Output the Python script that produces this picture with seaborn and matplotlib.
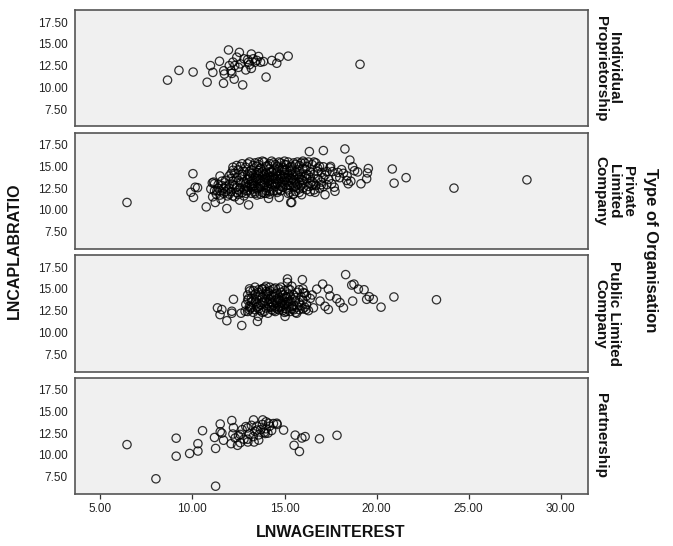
import matplotlib
matplotlib.use("Agg")
import numpy as np
import pandas as pd
import seaborn as sns
import matplotlib.pyplot as plt

# ---------------- data ----------------
org_order = ["Individual Proprietorship", "Private Limited Company",
             "Public Limited Company", "Partnership"]
row_labels = ["Individual\nProprietorship", "Private\nLimited\nCompany",
              "Public Limited\nCompany", "Partnership"]

x_ticks = [5.0, 10.0, 15.0, 20.0, 25.0, 30.0]
x_tick_labels = ["5.00", "10.00", "15.00", "20.00", "25.00", "30.00"]
y_ticks = [7.5, 10.0, 12.5, 15.0, 17.5]
y_tick_labels = ["7.50", "10.00", "12.50", "15.00", "17.50"]

individual_x = [8.65, 9.27, 10.04, 10.80, 10.98, 11.11, 11.47, 11.69, 11.70, 11.74,
                11.96, 12.00, 12.14, 12.20, 12.27, 12.30, 12.41, 12.55, 12.60, 12.73,
                12.80, 13.04, 13.10, 13.20, 13.20, 13.30, 13.40, 13.59, 13.70, 13.86,
                14.00, 14.31, 14.58, 14.72, 15.20, 19.10, 12.50, 13.00, 12.90, 13.50,
                12.10]
individual_y = [10.83, 11.95, 11.76, 10.59, 12.50, 11.72, 13.00, 10.47, 11.91, 11.53,
                14.30, 12.50, 11.60, 12.90, 10.94, 12.50, 13.47, 14.02, 12.70, 10.28,
                13.28, 12.89, 12.60, 13.83, 12.18, 13.28, 12.89, 13.55, 12.89, 12.97,
                11.18, 13.09, 12.77, 13.47, 13.59, 12.65, 12.30, 13.20, 12.00, 13.10,
                11.90]

private_pts = [
    (6.45, 10.85), (10.03, 14.16), (9.92, 12.02), (10.15, 12.60), (10.28, 12.55),
    (10.06, 11.43), (10.75, 10.34), (11.15, 13.19), (11.08, 13.10), (11.24, 10.85),
    (11.50, 13.89), (11.55, 11.24), (11.87, 10.15), (11.33, 12.20), (12.20, 14.55),
    (12.56, 11.12), (13.05, 10.57), (14.13, 11.32), (14.71, 11.43), (15.34, 10.85),
    (15.49, 11.82), (16.35, 16.70), (17.11, 16.82), (18.28, 17.00), (18.55, 15.72),
    (18.70, 14.95), (18.97, 14.36), (19.55, 14.75), (19.50, 14.25), (19.46, 13.58),
    (19.15, 13.00), (18.46, 13.00), (18.37, 13.38), (18.10, 14.63), (17.74, 12.14),
    (17.20, 11.74), (16.66, 12.02), (15.93, 11.74), (15.48, 11.80), (15.39, 10.85),
    (17.11, 14.95), (17.47, 14.83), (17.56, 13.00), (17.11, 12.68), (20.85, 14.70),
    (20.95, 13.07), (21.60, 13.70), (24.20, 12.50), (28.16, 13.45),
    (11.0, 12.4), (11.2, 13.0), (11.3, 11.8), (11.4, 12.9), (11.1, 11.5), (11.5, 12.2),
    (11.6, 12.8), (11.7, 11.9), (11.8, 13.4), (11.9, 12.3), (12.0, 13.9), (11.7, 12.5),
    (11.9, 11.6), (12.0, 12.9),
    (12.1, 12.1), (12.2, 13.3), (12.3, 14.2), (12.4, 12.6), (12.5, 11.8), (12.2, 12.9),
    (12.4, 13.7), (12.5, 14.6), (12.3, 11.5), (12.1, 13.6), (12.5, 12.3), (12.2, 14.9),
    (12.6, 13.1), (12.7, 12.0), (12.8, 14.4), (12.9, 12.7), (13.0, 13.5), (12.6, 15.0),
    (12.7, 13.8), (12.8, 11.6), (12.9, 14.9), (13.0, 12.2), (12.6, 12.5), (12.8, 13.2),
    (13.0, 14.1), (12.7, 15.3), (12.9, 11.9),
    (13.1, 12.9), (13.2, 14.6), (13.3, 12.4), (13.4, 15.4), (13.5, 13.6), (13.1, 13.9),
    (13.2, 11.9), (13.3, 15.1), (13.4, 12.1), (13.5, 14.3), (13.1, 15.5), (13.2, 13.3),
    (13.3, 14.0), (13.4, 12.8), (13.5, 11.7), (13.2, 12.6), (13.4, 13.7), (13.5, 15.0),
    (13.3, 13.0), (13.1, 14.4),
    (13.6, 12.5), (13.7, 14.8), (13.8, 13.2), (13.9, 15.5), (14.0, 12.2), (13.6, 13.9),
    (13.7, 11.8), (13.8, 14.4), (13.9, 12.9), (14.0, 13.7), (13.6, 15.2), (13.7, 13.4),
    (13.8, 12.0), (13.9, 14.1), (14.0, 15.0), (13.6, 14.5), (13.7, 12.7), (13.8, 15.6),
    (13.9, 13.5), (14.0, 12.6), (13.7, 14.2), (13.9, 11.9),
    (14.1, 13.3), (14.2, 15.3), (14.3, 12.4), (14.4, 14.6), (14.5, 13.0), (14.1, 14.0),
    (14.2, 12.1), (14.3, 15.6), (14.4, 13.6), (14.5, 12.7), (14.1, 15.1), (14.2, 13.8),
    (14.3, 14.3), (14.4, 12.2), (14.5, 15.2), (14.2, 14.7), (14.4, 13.1), (14.1, 12.5),
    (14.3, 13.5), (14.5, 14.2), (14.2, 11.8),
    (14.6, 13.9), (14.7, 12.4), (14.8, 15.4), (14.9, 13.2), (15.0, 14.5), (14.6, 12.0),
    (14.7, 14.8), (14.8, 13.6), (14.9, 12.6), (15.0, 15.2), (14.6, 15.0), (14.7, 13.3),
    (14.8, 14.1), (14.9, 14.9), (15.0, 12.9), (14.7, 15.5), (14.8, 12.2), (14.9, 13.8),
    (15.0, 13.4), (14.6, 14.4),
    (15.1, 13.7), (15.2, 12.3), (15.3, 14.9), (15.4, 13.1), (15.5, 15.4), (15.1, 14.6),
    (15.2, 13.4), (15.3, 12.0), (15.4, 14.2), (15.5, 12.6), (15.1, 15.2), (15.2, 14.0),
    (15.3, 13.6), (15.4, 15.0), (15.5, 13.9), (15.2, 15.5), (15.3, 12.8), (15.1, 12.5),
    (15.6, 14.4), (15.7, 12.9), (15.8, 15.1), (15.9, 13.5), (16.0, 14.7), (15.6, 13.2),
    (15.7, 15.5), (15.8, 12.4), (15.9, 14.1), (16.0, 13.0), (15.6, 12.1), (15.7, 14.0),
    (15.8, 13.7), (15.9, 15.4), (16.0, 12.5),
    (16.1, 13.9), (16.2, 15.0), (16.3, 12.7), (16.4, 14.4), (16.5, 13.3), (16.1, 15.4),
    (16.2, 12.3), (16.3, 14.0), (16.4, 13.0), (16.5, 15.2), (16.2, 13.6), (16.4, 12.1),
    (16.3, 15.5),
    (16.6, 14.1), (16.7, 12.8), (16.8, 13.6), (16.9, 15.0), (17.0, 14.3), (16.6, 13.0),
    (16.8, 14.8), (17.0, 13.2), (16.7, 15.4), (16.9, 12.5),
    (17.2, 14.0), (17.4, 13.5), (17.6, 14.4), (17.8, 13.8), (17.3, 12.9), (17.9, 14.3),
    (18.0, 13.7), (17.5, 15.0), (17.7, 12.6), (18.2, 14.2), (18.4, 13.9), (18.6, 13.3),
    (18.8, 14.5),
    (12.3, 12.8), (12.5, 13.4), (12.7, 14.1), (12.9, 13.0), (13.0, 12.6), (13.2, 14.2),
    (13.3, 13.4), (13.5, 12.4), (13.6, 13.6), (13.8, 13.9), (13.9, 13.1), (14.1, 13.6),
    (14.2, 14.3), (14.3, 12.9), (14.5, 13.5), (14.6, 13.1), (14.8, 13.9), (15.0, 13.7),
    (15.1, 13.2), (15.3, 14.4), (15.5, 13.4), (15.6, 14.0), (15.8, 14.4), (16.0, 13.4),
    (16.2, 14.1), (16.4, 13.7), (12.4, 12.0), (12.6, 14.0), (12.8, 12.4), (13.1, 13.6),
    (13.3, 12.7), (13.6, 14.1), (13.8, 12.8), (14.0, 14.3), (14.2, 13.1), (14.4, 13.9),
    (14.6, 13.6), (14.8, 12.7), (15.0, 14.1), (15.2, 12.8), (15.4, 13.6), (15.6, 12.7),
    (15.8, 13.1), (16.1, 14.7), (11.6, 13.3), (11.8, 12.1), (12.0, 12.5), (12.0, 11.8),
    (11.5, 11.7), (11.8, 12.7), (12.1, 14.2), (12.4, 15.1), (13.0, 15.3), (13.6, 15.5),
    (14.4, 15.4), (15.0, 15.6), (15.6, 15.2), (16.0, 15.6), (16.6, 15.5), (12.9, 12.2),
    (13.4, 11.9), (14.0, 11.9), (14.6, 12.2), (15.2, 11.9), (15.8, 12.0), (16.6, 12.3),
    (17.1, 13.7), (17.3, 14.4), (16.8, 14.4), (16.5, 12.8), (17.0, 12.9), (13.2, 13.0),
    (13.7, 13.0), (14.3, 13.8), (14.9, 14.6), (15.4, 14.6), (15.9, 12.8), (12.2, 11.6),
    (11.4, 12.5), (11.2, 12.2),
]

public_pts = [
    (11.36, 12.82), (11.50, 12.04), (11.60, 12.63), (11.87, 11.34), (12.14, 12.43),
    (12.14, 12.20), (12.23, 13.80), (12.68, 10.79), (12.64, 12.20), (12.86, 12.43),
    (13.04, 13.87), (13.13, 12.82), (13.13, 14.77), (13.53, 11.26), (13.58, 11.84),
    (13.77, 14.97), (15.16, 16.14), (15.16, 15.74), (15.97, 16.06), (15.03, 11.84),
    (15.66, 12.20), (16.03, 14.57), (16.17, 12.63), (16.75, 14.97), (17.07, 15.55),
    (17.38, 14.97), (17.38, 12.63), (17.47, 14.19), (16.93, 13.60), (17.20, 13.00),
    (17.83, 13.87), (18.01, 13.42), (18.20, 12.82), (16.57, 12.82), (18.32, 16.64),
    (18.65, 15.44), (18.77, 15.55), (19.01, 14.97), (19.32, 14.90), (19.46, 13.80),
    (19.60, 14.10), (19.82, 13.80), (18.70, 13.60), (20.24, 12.90), (20.94, 14.07),
    (23.25, 13.75),
    (12.9, 13.2), (13.0, 14.3), (13.1, 12.6), (13.2, 13.9), (13.3, 14.8), (13.3, 12.3),
    (13.4, 13.5), (13.5, 14.1), (13.5, 12.9), (13.6, 14.6), (13.7, 13.2), (13.7, 12.5),
    (13.8, 14.0), (13.9, 13.6), (13.9, 15.1), (14.0, 12.8), (14.0, 14.4), (14.1, 13.3),
    (14.1, 12.2), (14.2, 14.8), (14.2, 13.8), (14.3, 12.6), (14.3, 14.2), (14.4, 13.1),
    (14.4, 15.0), (14.5, 13.7), (14.5, 12.4), (14.6, 14.5), (14.6, 13.4), (14.7, 12.9),
    (14.7, 14.0), (14.8, 15.2), (14.8, 13.6), (14.9, 12.5), (14.9, 14.3), (15.0, 13.2),
    (15.0, 14.8), (15.1, 13.9), (15.1, 12.7), (15.2, 14.4), (15.2, 13.5), (15.3, 12.4),
    (15.3, 14.9), (15.4, 13.8), (15.4, 13.0), (15.5, 14.3), (15.5, 12.6), (15.6, 13.6),
    (15.7, 14.6), (15.7, 12.9), (15.8, 13.4), (15.9, 14.1), (16.0, 12.7), (16.0, 13.7),
    (16.1, 14.5), (16.2, 13.2), (16.3, 12.5), (16.4, 13.9), (13.4, 14.4), (13.6, 13.0),
    (13.8, 12.3), (14.0, 13.9), (14.2, 12.9), (14.4, 14.1), (14.6, 12.7), (14.8, 14.6),
    (15.0, 12.3), (15.2, 15.0), (13.2, 12.8), (13.5, 13.3), (13.8, 15.0), (14.1, 14.6),
    (14.3, 13.4), (14.5, 15.1), (14.7, 13.8), (14.9, 13.0), (15.1, 14.1), (15.3, 13.6),
    (15.6, 12.3), (15.8, 14.9), (16.1, 12.9), (16.5, 14.3), (13.0, 12.4), (13.6, 12.7),
    (14.0, 15.3), (14.4, 12.5), (14.8, 12.9), (15.4, 15.3), (13.1, 15.0), (13.3, 13.7),
    (13.2, 13.5), (13.4, 12.6), (13.5, 13.8), (13.7, 14.3), (13.8, 13.4), (14.0, 13.5),
    (14.1, 14.1), (14.2, 13.5), (14.3, 12.9), (14.5, 14.4), (14.6, 13.9), (14.7, 12.6),
    (14.9, 13.6), (15.0, 14.0), (15.1, 13.4), (15.2, 12.9), (15.3, 14.2), (15.5, 13.1),
    (15.6, 14.0), (15.8, 12.6), (13.0, 13.7), (13.6, 14.9), (14.2, 15.2), (14.8, 13.3),
    (15.4, 12.7), (15.9, 13.1), (13.1, 13.0), (13.9, 12.4), (14.5, 12.9), (15.1, 12.4),
    (14.0, 14.7), (14.7, 15.0), (13.4, 15.2), (16.2, 14.2), (16.0, 15.0),
]

partnership_pts = [
    (6.45, 11.18), (8.02, 7.25), (9.12, 11.92), (9.12, 9.85), (9.85, 10.16),
    (10.30, 11.29), (10.30, 10.44), (10.55, 12.78), (11.26, 6.40), (11.26, 10.74),
    (11.20, 12.00), (11.51, 12.66), (11.51, 13.55), (11.69, 11.68), (12.14, 13.95),
    (12.23, 13.13), (12.10, 11.29), (12.32, 11.94), (12.45, 11.10), (12.60, 12.35),
    (12.90, 13.25), (13.01, 11.48), (13.32, 14.02), (13.35, 11.48), (13.50, 12.85),
    (13.82, 14.02), (13.95, 12.46), (14.13, 13.64), (14.58, 13.64), (14.95, 12.85),
    (15.58, 12.27), (15.52, 11.10), (15.81, 10.39), (15.94, 11.94), (16.12, 12.10),
    (16.90, 11.85), (17.85, 12.25),
    (12.5, 12.2), (12.7, 12.9), (12.8, 11.8), (13.0, 13.1), (13.1, 12.4), (13.2, 13.4),
    (13.3, 12.1), (13.4, 12.7), (13.5, 13.3), (13.6, 12.3), (13.7, 12.9), (13.8, 13.5),
    (13.9, 12.6), (14.0, 13.0), (14.1, 12.5), (14.2, 13.3), (14.3, 12.8), (14.4, 13.6),
    (14.6, 13.5), (12.6, 11.4), (13.0, 11.8), (13.6, 11.7), (14.0, 13.8), (12.2, 12.4),
    (11.6, 12.5),
]

# ---------------- table ----------------
frames = [
    pd.DataFrame({"wage": individual_x, "cap": individual_y, "org": org_order[0]}),
    pd.DataFrame(private_pts, columns=["wage", "cap"]).assign(org=org_order[1]),
    pd.DataFrame(public_pts, columns=["wage", "cap"]).assign(org=org_order[2]),
    pd.DataFrame(partnership_pts, columns=["wage", "cap"]).assign(org=org_order[3]),
]
df = pd.concat(frames, ignore_index=True)

# ---------------- plot ----------------
sns.set_style("white")
plt.rcParams["font.family"] = ["Liberation Sans", "DejaVu Sans"]

g = sns.FacetGrid(df, row="org", row_order=org_order, height=1.2, aspect=5,
                  sharex=True, sharey=True, despine=False)
g.map_dataframe(sns.scatterplot, x="wage", y="cap", marker="o",
                facecolor="none", edgecolor="black", s=36, linewidth=0.9,
                alpha=0.8)

fig = g.figure
fig.set_size_inches(6.73, 5.46)
fig.set_dpi(100)
fig.subplots_adjust(left=0.1107, right=0.873, top=0.981, bottom=0.0952,
                    hspace=0.055)

axes = g.axes.flatten()
for i, ax in enumerate(axes):
    ax.set_title("")
    ax.set_xlabel("")
    ax.set_ylabel("")
    ax.set_facecolor("#F0F0F0")
    ax.set_xlim(3.6, 31.45)
    ax.set_ylim(5.5, 18.85)
    ax.set_yticks(y_ticks)
    ax.set_yticklabels(y_tick_labels)
    ax.set_xticks(x_ticks)
    ax.set_xticklabels(x_tick_labels)
    for sp in ax.spines.values():
        sp.set_color("#555555")
        sp.set_linewidth(1.2)
    ax.tick_params(axis="both", direction="out", length=3.5, width=0.9,
                   color="#333333", labelsize=8.5, labelcolor="#222222", pad=1.5)
    if i < len(axes) - 1:
        ax.tick_params(axis="x", bottom=False, labelbottom=False)
    else:
        ax.tick_params(axis="x", bottom=True, labelbottom=True, pad=3)
    ax.text(1.012, 0.5, row_labels[i], transform=ax.transAxes, rotation=270,
            ha="left", va="center", multialignment="center",
            fontsize=11, fontweight="bold", color="#111111", linespacing=0.95)

fig.text(0.022, 0.54, "LNCAPLABRATIO", rotation=90, ha="center", va="center",
         fontsize=11.5, fontweight="bold", color="#111111")
fig.text(0.492, 0.024, "LNWAGEINTEREST", ha="center", va="center",
         fontsize=11.5, fontweight="bold", color="#111111")
fig.text(0.966, 0.542, "Type of Organisation", rotation=270, ha="center",
         va="center", fontsize=12, fontweight="bold", color="#111111")

fig.savefig("out.png", dpi=100)
